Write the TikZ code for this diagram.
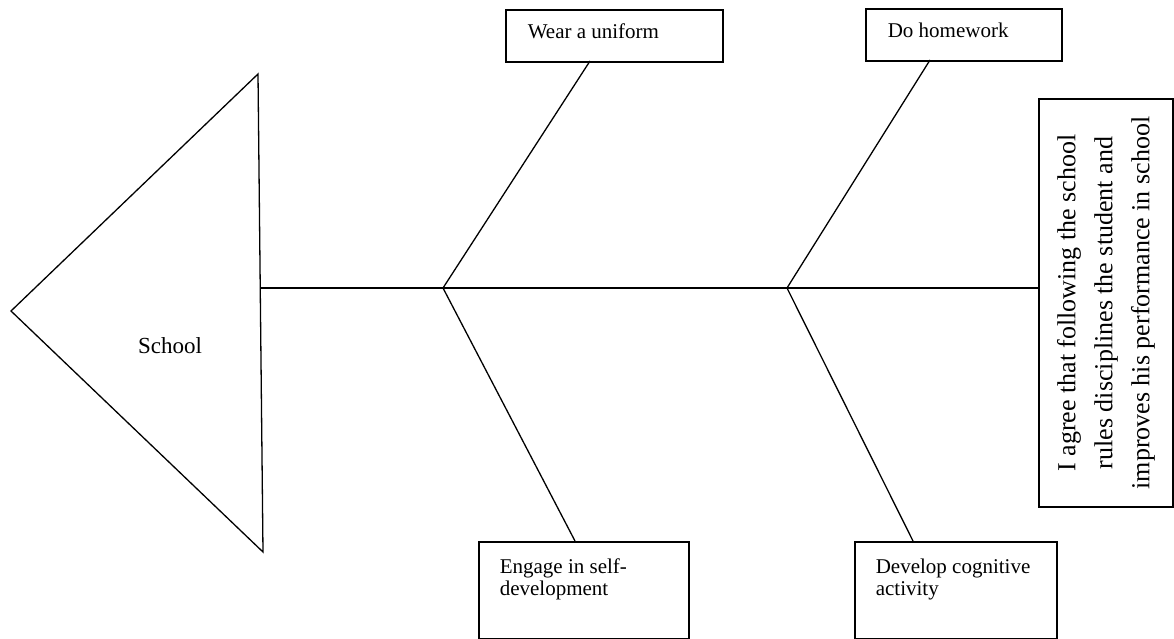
\documentclass[tikz,border=0pt]{standalone}
\usepackage{fontspec}
\setmainfont{Liberation Serif}
\begin{document}
\begin{tikzpicture}[x=1pt,y=-1pt,
  line/.style={line width=1.3pt},
  box/.style={draw, line width=1.6pt, inner sep=0pt, anchor=north west},
  lbl/.style={font=\fontsize{21}{22}\selectfont}]
\useasboundingbox (0,0) rectangle (1174,639);
% head triangle
\coordinate (tip) at (11,311);
\coordinate (tt) at (258,74);
\coordinate (tb) at (263,552);
\draw[line] (tip) -- (tt) -- (tb) -- cycle;
\node[font=\fontsize{23}{24}\selectfont] (school) at (170,346) {School};
% boxes
\node[box, lbl] (b1) at (505,9) {\parbox[c][52pt][t]{217pt}{\leftskip=22pt\rule{0pt}{29pt}Wear a uniform}};
\node[box, lbl] (b2) at (865,8) {\parbox[c][52pt][t]{196pt}{\leftskip=22pt\rule{0pt}{29pt}Do homework}};
\node[box, lbl] (b3) at (478,541) {\parbox[c][97pt][t]{210pt}{\raggedright\leftskip=21pt\rule{0pt}{32pt}Engage in self-\\development}};
\node[box, lbl] (b4) at (854,541) {\parbox[c][97pt][t]{202pt}{\raggedright\leftskip=21pt\rule{0pt}{32pt}Develop cognitive\\activity}};
\node[draw, line width=1.6pt, rotate=90, minimum width=408pt, minimum height=134pt, inner sep=0pt, align=center, font=\fontsize{26}{37}\selectfont] (rb) at (1106,303) {I agree that following the school\\rules disciplines the student and\\improves his performance in school};
% spine
\coordinate (sp0) at (261,288);
\draw[line] (sp0) -- (sp0 -| rb.north);
% branches
\coordinate (j1) at (443,288);
\coordinate (j2) at (787,288);
\coordinate (u1) at (590,61);
\coordinate (d1) at (575,541);
\coordinate (u2) at (930,60);
\coordinate (d2) at (913,541);
\draw[line] (j1) -- (u1);
\draw[line] (j1) -- (d1);
\draw[line] (j2) -- (u2);
\draw[line] (j2) -- (d2);
\end{tikzpicture}
\end{document}
